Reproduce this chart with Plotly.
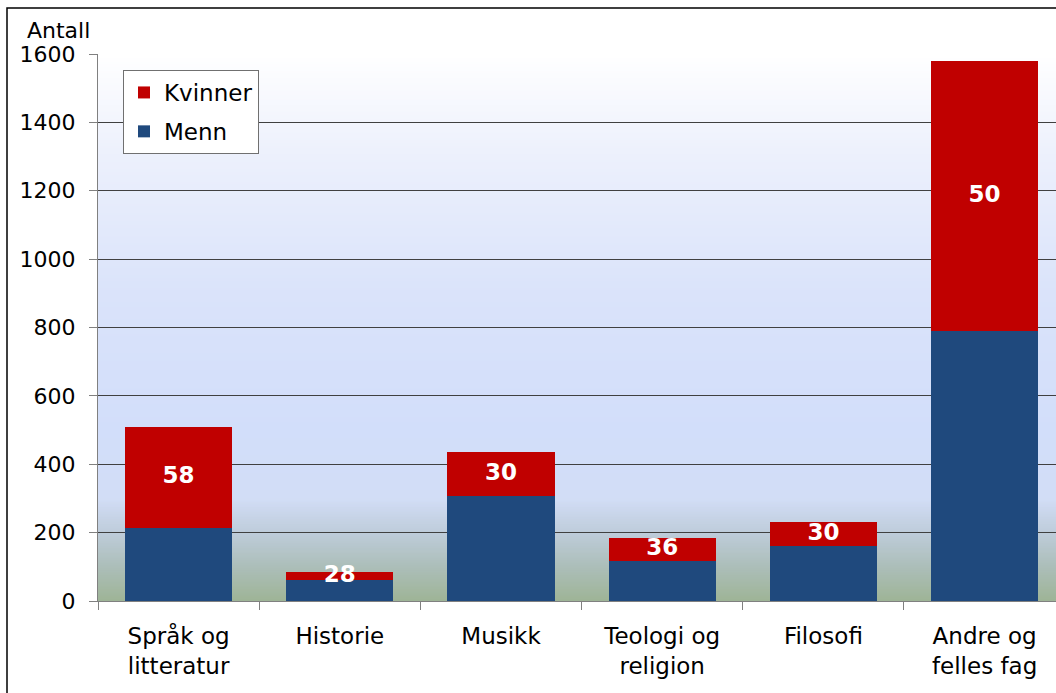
import plotly.graph_objects as go

categories = ["Språk og<br>litteratur", "Historie", "Musikk", "Teologi og<br>religion", "Filosofi", "Andre og<br>felles fag"]
menn = [214, 61, 306, 118, 162, 789]
kvinner = [295, 24, 131, 66, 69, 790]
pct_kvinner = [58, 28, 30, 36, 30, 50]
y_ticks = [0, 200, 400, 600, 800, 1000, 1200, 1400, 1600]

FONT = "DejaVu Sans"
fig = go.Figure()
fig.add_trace(go.Bar(x=categories, y=menn, name="Menn", legendrank=2, legendgroup="m",
                     marker=dict(color="#1F497D", line=dict(width=0))))
fig.add_trace(go.Bar(x=categories, y=kvinner, name="Kvinner", legendrank=1, legendgroup="k",
                     marker=dict(color="#C00000", line=dict(width=0))))
label_y = [m + k / 2 for m, k in zip(menn, kvinner)]
fig.add_trace(go.Scatter(x=categories, y=label_y, mode="text", text=[str(p) for p in pct_kvinner],
                         textfont=dict(color="white", size=23, family=FONT, weight="bold"),
                         showlegend=False, hoverinfo="skip"))

# background gradient (bands)
stops = [(0, (158, 180, 150)), (100, (172, 190, 185)), (200, (190, 204, 218)), (300, (210, 221, 246)),
         (500, (210, 222, 250)), (900, (218, 227, 250)), (1300, (236, 240, 252)), (1600, (255, 255, 255))]
def col(v):
    for (a, ca), (b, cb) in zip(stops[:-1], stops[1:]):
        if a <= v <= b:
            t = (v - a) / (b - a)
            return "rgb(%d,%d,%d)" % tuple(round(ca[i] + (cb[i] - ca[i]) * t) for i in range(3))
    return "white"
shapes = []
step = 5
for v in range(0, 1600, step):
    shapes.append(dict(type="rect", xref="paper", yref="y", x0=0, x1=1, y0=v, y1=min(v + step + 3, 1600),
                       fillcolor=col(v + step / 2), line=dict(width=0), layer="below"))
# outer frame
shapes.append(dict(type="rect", xref="paper", yref="paper", x0=(7 - 98) / 958, x1=1.2,
                   y0=-0.3, y1=(601 - 8) / 547, line=dict(color="black", width=1.5), layer="above"))
fig.update_layout(shapes=shapes)

fig.update_layout(
    width=1056, height=693,
    margin=dict(l=98, r=0, t=54, b=92),
    barmode="stack", bargap=0.335,
    paper_bgcolor="white", plot_bgcolor="white",
    font=dict(family=FONT, size=22, color="black"),
    legend=dict(x=(123 - 98) / 958, y=(601 - 70) / 547, xanchor="left", yanchor="top",
                traceorder="grouped",
                bgcolor="white", bordercolor="#707070", borderwidth=1,
                font=dict(size=23, family=FONT), itemwidth=30, tracegroupgap=6),
    xaxis=dict(range=[-0.5, 5.443], ticks="outside", tickson="boundaries", ticklen=8,
               tickcolor="#808080", showline=True, linecolor="#808080", linewidth=1,
               tickfont=dict(size=23, family=FONT), showgrid=False, ticklabelstandoff=14),
    yaxis=dict(range=[0, 1600], tickvals=y_ticks, ticks="outside", ticklen=8, tickcolor="#808080",
               showline=True, linecolor="#808080", linewidth=1, showgrid=True,
               gridcolor="#404040", gridwidth=1, tickfont=dict(size=22, family=FONT),
               zeroline=False, layer="below traces", ticklabelstandoff=9),
    annotations=[dict(text="Antall", xref="paper", yref="paper", x=(25 - 98) / 958, y=(601 - 30) / 547,
                      xanchor="left", yanchor="middle", showarrow=False, font=dict(size=22, family=FONT))],
)
fig.write_html("out.html", config={"displayModeBar": False},
               post_script="document.body.style.margin='0px';document.body.style.overflow='hidden';")
